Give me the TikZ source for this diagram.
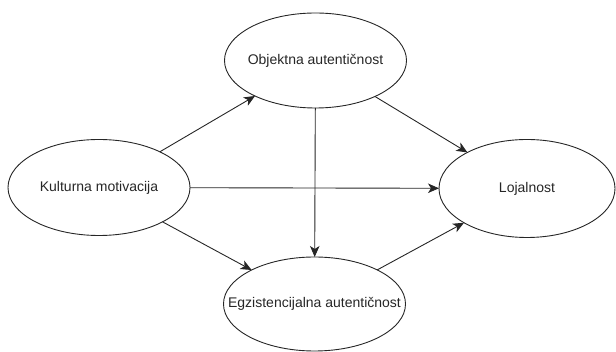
\documentclass[tikz,border=0pt]{standalone}
\usepackage{fontspec}
\setmainfont{Liberation Sans}
\usetikzlibrary{shapes.geometric,arrows.meta}
\newcommand{\ovaltext}[1]{\makebox[0pt][c]{#1}}
\begin{document}
\begin{tikzpicture}[x=1pt,y=-1pt,
  oval/.style={draw=black!85, line width=0.9pt, ellipse, inner sep=0pt, outer sep=0pt,
    minimum width=182pt, minimum height=96pt, font=\fontsize{14}{16}\selectfont, text=black!85},
  link/.style={draw=black!85, line width=0.9pt, -{Stealth[length=11pt,width=9.5pt,inset=3pt]}}]
\useasboundingbox (0,0) rectangle (616,352);
\node[oval] (k) at (99,187.5) {\ovaltext{Kulturna motivacija}};
\node[oval, minimum height=95pt] (o) at (315.5,60.5) {\ovaltext{Objektna autentičnost}};
\node[oval, minimum width=176pt, minimum height=98pt] (l) at (527,188.5) {\ovaltext{Lojalnost}};
\node[oval, minimum height=94pt] (e) at (314.5,304) {\ovaltext{Egzistencijalna autentičnost}};
\draw[link] (k) -- (o);
\draw[link] (o) -- (l);
\draw[link] (k) -- (l);
\draw[link] (o) -- (e);
\draw[link] (k) -- (e);
\draw[link] (e) -- (l);
\end{tikzpicture}
\end{document}
